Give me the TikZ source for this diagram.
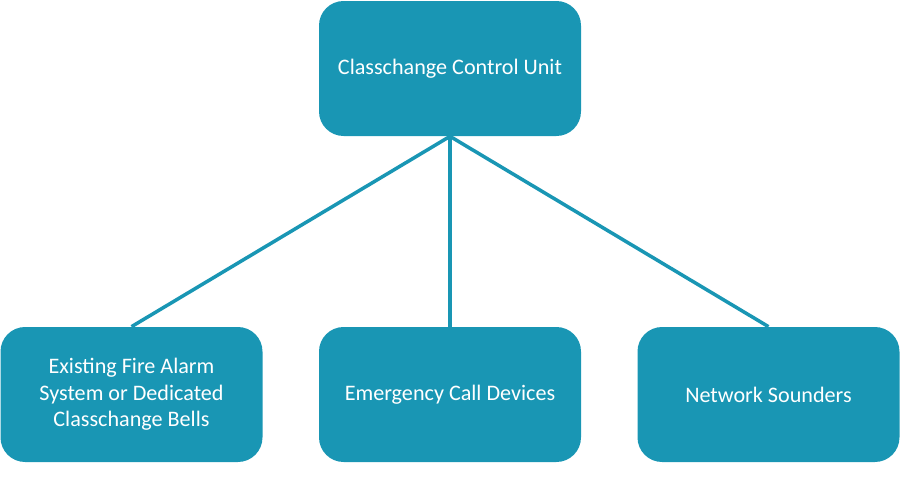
\documentclass[tikz,border=0pt]{standalone}
\usepackage{fontspec}
\setmainfont{Carlito}
\usepackage{xcolor}
\definecolor{ccteal}{RGB}{25,150,180}
\usetikzlibrary{positioning}
\tikzset{
  unitbox/.style={draw=none, fill=ccteal, rounded corners=14pt, minimum width=5.24cm, minimum height=2.7cm, align=center, text=white, font=\fontsize{12.6}{15}\selectfont},
  unitlink/.style={ccteal, line width=2pt}
}

\begin{document}
\begin{tikzpicture}
  \useasboundingbox (0,0) rectangle (18,-9.6);
  % Control unit
  \node[unitbox] (ccu) at (9.0,-1.37) {Classchange Control Unit};
  % Outputs
  \node[unitbox] (bells) at (2.63,-7.89) {Existing Fire Alarm\\System or Dedicated\\Classchange Bells};
  \node[unitbox] (ecd) at (9.0,-7.89) {Emergency Call Devices};
  \node[unitbox] (sounders) at (15.37,-7.89) {Network Sounders};
  % Links
  \draw[unitlink] (ccu.south) -- (bells.north);
  \draw[unitlink] (ccu.south) -- (ecd.north);
  \draw[unitlink] (ccu.south) -- (sounders.north);
\end{tikzpicture}
\end{document}
